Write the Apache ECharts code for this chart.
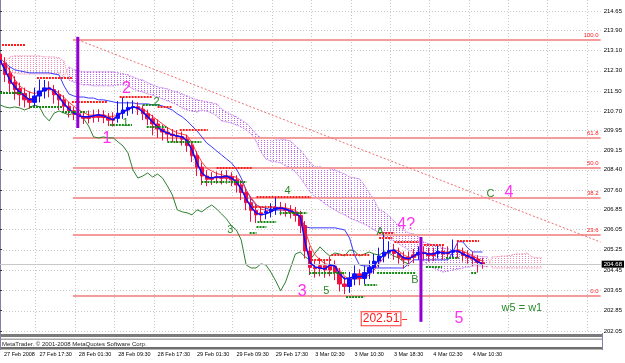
<!DOCTYPE html>
<html><head><meta charset="utf-8">
<script src="https://cdn.jsdelivr.net/npm/echarts@6/dist/echarts.min.js"></script>
<style>html,body{margin:0;padding:0;background:#fff}#c{width:625px;height:363px}</style>
</head><body><div id="c"></div>
<script>
// ---------- DATA (hourly bars, bar index 0 = 27 Feb 2008) ----------
const timeLabels = ['27 Feb 2008','27 Feb 17:30','28 Feb 01:30','28 Feb 09:30','28 Feb 17:30','29 Feb 01:30','29 Feb 09:30','29 Feb 17:30','3 Mar 02:30','3 Mar 10:30','3 Mar 18:30','4 Mar 02:30','4 Mar 10:30'];
const timeLabelBars = [0, 7.2, 15.2, 23.2, 31.2, 39.2, 47.2, 55.2, 63.2, 71.2, 79.2, 87.2, 95.2];
const gridBars = [7.2, 15.2, 23.2, 31.2, 39.2, 47.2, 55.2, 63.2, 71.2, 79.2, 87.2, 95.2, 103.2, 111.2, 119.2];
const priceTicks = [202.05, 202.85, 203.65, 204.45, 205.25, 206.05, 206.85, 207.60, 208.40, 209.15, 209.95, 210.70, 211.50, 212.30, 213.10, 213.90, 214.65];

const open = [212.95,212.60,212.20,211.85,211.60,211.40,211.20,211.05,211.30,211.50,
211.62,211.55,211.35,211.15,210.90,210.72,210.60,210.48,210.50,210.50,
210.55,210.55,210.45,210.42,210.42,210.62,210.75,210.85,210.88,210.78,
210.60,210.40,210.20,210.00,209.88,209.80,209.74,209.70,209.60,209.35,
208.95,208.50,208.15,208.08,208.12,208.12,208.12,208.12,208.00,207.80,
207.50,207.10,206.80,206.70,206.70,206.75,206.85,206.92,206.85,206.80,
206.72,206.60,206.20,205.20,204.55,204.62,204.62,204.60,204.60,204.35,
203.90,203.80,204.10,204.30,204.12,204.35,204.55,204.80,205.00,205.15,
205.22,205.10,204.95,204.95,205.05,205.05,205.15,205.10,205.10,205.10,
205.18,205.15,205.15,205.22,205.15,205.02,204.95,204.88,204.75];
const close = [212.55,212.15,211.80,211.55,211.35,211.15,211.05,211.30,211.50,211.62,
211.55,211.35,211.15,210.90,210.72,210.58,210.48,210.42,210.42,210.46,
210.46,210.45,210.35,210.35,210.62,210.75,210.85,210.88,210.78,210.60,
210.40,210.20,210.00,209.88,209.80,209.74,209.70,209.60,209.35,208.95,
208.50,208.15,208.02,208.02,208.08,208.06,208.06,208.00,207.80,207.50,
207.10,206.80,206.62,206.62,206.75,206.85,206.92,206.85,206.80,206.72,
206.60,206.20,205.20,204.55,204.50,204.50,204.45,204.45,204.35,203.90,
203.80,204.10,204.30,204.12,204.35,204.55,204.80,205.00,205.15,205.22,
205.10,204.95,204.85,204.85,204.95,205.15,205.10,205.02,205.02,205.18,
205.08,205.08,205.22,205.15,205.02,204.95,204.88,204.75,204.68];
const low = [212.20,211.85,211.45,211.15,210.90,210.85,210.80,210.85,211.05,211.20,
211.25,211.00,210.75,210.65,210.45,210.35,210.25,210.20,210.22,210.25,
210.28,210.23,210.12,210.10,210.25,210.40,210.52,210.60,210.55,210.35,
210.15,209.75,209.65,209.55,209.52,209.48,209.45,209.35,209.10,208.70,
208.15,207.80,207.75,207.80,207.85,207.82,207.85,207.75,207.50,207.20,
206.80,206.35,206.30,206.35,206.45,206.52,206.62,206.60,206.55,206.48,
206.35,205.90,204.90,204.25,204.15,204.20,204.15,204.20,204.05,203.60,
203.50,203.55,203.85,203.85,203.90,204.10,204.30,204.55,204.75,204.90,
204.85,204.70,204.50,204.60,204.72,204.85,204.85,204.78,204.80,204.90,
204.85,204.88,204.95,204.90,204.78,204.70,204.60,204.35,204.50];
const high = [213.15,212.83,212.43,212.08,211.83,211.63,211.48,211.63,211.95,211.93,
211.88,211.73,211.53,211.33,211.08,210.88,210.78,210.70,210.73,210.76,
210.78,210.74,210.63,210.66,211.10,211.25,211.08,211.13,211.06,210.93,
210.76,210.56,210.38,210.18,210.08,210.00,209.96,209.90,209.78,209.53,
209.13,208.68,208.38,208.30,208.33,208.36,208.38,208.30,208.18,207.98,
207.68,207.28,207.03,206.93,206.98,207.08,207.30,207.13,207.08,207.00,
206.93,206.78,206.38,205.38,204.83,204.93,204.88,204.98,204.83,204.53,
204.18,204.38,204.63,204.48,204.63,204.83,205.08,205.33,205.88,205.58,
205.48,205.33,205.18,205.18,205.28,205.38,205.38,205.33,205.33,205.43,
205.38,205.38,205.65,205.60,205.33,205.23,205.18,205.03,204.93];

// thick blue moving average
const maFast = [212.72,212.33,211.93,211.66,211.46,211.30,211.15,211.19,211.42,211.54,
211.62,211.50,211.26,210.99,210.79,210.63,210.52,210.48,210.48,210.52,
210.56,210.52,210.44,210.36,210.56,210.67,210.79,210.87,210.83,210.67,
210.48,210.28,210.08,209.93,209.85,209.77,209.73,209.69,209.53,209.18,
208.67,208.27,208.11,208.07,208.11,208.11,208.15,208.07,207.92,207.64,
207.25,206.93,206.70,206.62,206.66,206.74,206.85,206.89,206.85,206.78,
206.70,206.54,205.52,204.73,204.57,204.53,204.49,204.65,204.61,204.30,
204.10,204.14,204.18,204.18,204.22,204.37,204.61,204.89,205.04,205.20,
205.24,205.08,204.93,204.89,205.00,205.12,205.12,205.08,205.08,205.16,
205.12,205.12,205.20,205.20,205.08,205.00,204.92,204.77,204.69];
// Ichimoku tenkan (thin red)
const tenkan = [212.80,212.60,212.30,211.95,211.70,211.55,211.45,211.40,211.45,211.55,
211.55,211.55,211.40,211.25,211.05,210.90,210.75,210.65,210.55,210.55,
210.55,210.55,210.50,210.50,210.55,210.65,210.75,210.85,210.85,210.80,
210.65,210.50,210.35,210.20,210.05,209.95,209.85,209.80,209.75,209.45,
209.05,208.70,208.45,208.35,208.25,208.20,208.15,208.15,208.10,207.95,
207.60,207.30,207.05,206.85,206.80,206.80,206.85,206.90,206.90,206.85,
206.80,206.65,206.00,205.40,205.05,204.85,204.70,204.65,204.60,204.45,
204.20,204.10,204.10,204.10,204.15,204.25,204.45,204.70,204.95,205.15,
205.25,205.20,205.05,204.95,204.95,205.05,205.10,205.10,205.10,205.15,
205.15,205.15,205.20,205.25,205.20,205.10,205.00,204.90,204.80];
// Ichimoku kijun (thin blue)
const kijun = [212.80,212.60,212.45,212.33,212.29,212.25,212.21,212.21,212.21,212.21,
212.21,212.17,212.13,211.70,211.38,211.30,211.26,211.26,211.22,211.22,
211.15,211.15,211.11,211.07,211.03,211.03,211.03,211.03,210.99,210.99,
210.99,210.95,210.95,210.91,210.83,210.75,210.60,210.48,210.32,210.12,
209.93,209.69,209.45,209.30,209.14,208.98,208.82,208.67,208.43,208.07,
207.60,207.25,207.01,206.93,206.89,206.81,206.81,206.81,206.81,206.78,
206.70,206.50,206.15,206.11,206.11,206.11,206.11,206.11,206.11,206.07,
206.03,205.71,205.04,204.65,204.61,204.61,204.53,204.53,204.53,204.53,
204.53,204.53,204.53,204.69,204.85,204.85,204.85,204.85,204.85,204.85,
204.85,204.85,205.16,205.56,205.56,205.32,205.16,205.16,205.16];
// Ichimoku chikou (green)
const chikou = [210.95,210.87,210.83,210.87,210.83,210.75,210.83,210.95,210.87,210.52,
210.32,210.63,210.71,210.63,210.56,210.63,210.60,210.40,210.12,209.69,
209.65,209.69,209.65,209.65,209.49,209.33,209.06,208.39,208.07,208.15,
208.27,208.11,208.23,208.07,207.76,207.41,206.82,206.74,206.70,206.62,
206.82,206.74,206.89,207.01,206.85,206.66,206.46,206.19,206.03,205.63,
204.65,204.53,204.53,204.69,204.65,204.37,204.02,203.63,203.98,204.53,
205.08,205.16,204.96,204.85,205.12,205.36,205.16,205.00,205.12,205.08,
205.00,205.24,205.20,205.00,205.08,205.16,205.08,205.04,205.16,205.12,
205.00,204.92,204.77,204.69];
// Ichimoku cloud spans, starting at bar 1
const cloudStartBar = 1;
const spanA = [212.64,212.84,212.88,212.88,212.88,212.88,212.88,212.88,212.84,212.84,212.84,212.80,212.68,
211.93,211.85,211.78,211.74,211.74,211.70,211.70,211.70,211.70,211.70,211.74,211.74,211.70,211.58,211.50,211.46,
211.38,211.34,211.26,211.19,211.11,211.03,210.95,210.83,210.75,210.71,210.67,210.75,210.71,210.63,210.52,210.32,
210.28,210.24,210.16,210.08,209.97,209.81,209.53,209.10,208.82,208.74,208.71,208.67,208.55,208.47,208.31,208.08,
207.80,207.52,207.33,207.21,207.05,206.93,206.82,206.70,206.62,206.50,206.42,206.34,206.26,206.15,206.03,205.91,
205.79,205.67,205.60,205.48,205.36,205.24,205.12,205.00,204.81,204.65,204.53,204.45,204.37,204.41,204.45,204.49,
204.53,204.57,204.61,204.61,204.61,204.57,
204.97,204.97,205.00,205.00,205.04,205.08,205.08,205.12,204.97,204.93,204.93];
const spanB = [212.33,212.25,212.21,212.17,212.17,212.17,212.17,212.17,212.17,212.17,212.17,212.21,212.05,
212.45,212.33,212.29,212.25,212.25,212.25,212.25,212.25,212.25,212.25,212.21,212.17,212.13,212.05,211.97,211.93,
211.82,211.74,211.66,211.62,211.58,211.50,211.46,211.38,211.30,211.22,211.15,211.11,211.07,211.03,210.99,210.79,
210.67,210.56,210.48,210.36,210.24,210.04,209.81,209.65,209.65,209.65,209.61,209.61,209.57,209.53,209.34,209.18,
208.94,208.67,208.51,208.51,208.47,208.43,208.39,208.31,208.23,208.11,208.08,208.04,207.80,207.49,207.21,206.82,
206.74,206.58,206.38,206.19,206.03,205.91,205.87,205.75,205.56,205.48,205.44,205.40,205.32,205.28,205.24,205.20,
205.16,205.12,205.04,205.00,204.97,204.97,
204.53,204.53,204.53,204.53,204.53,204.53,204.53,204.53,204.53,204.53,204.53];

// dotted resistance (red) and support (green) segments: [startBar, endBar, price]
const redLevels = [[0.4,5.1,213.31],[7.5,14.6,212.01],[14.6,21.9,211.07],[24.3,30.8,211.26],[32.0,34.9,210.87],
[36.5,42.2,209.97],[44.0,51.1,208.47],[51.3,56.1,206.93],[52.1,63.2,207.33],[63.2,67.3,204.85],[67.3,75.0,205.04],
[77.0,80.1,205.91],[77.0,79.7,205.71],[80.1,85.1,205.56],[86.1,90.2,205.44],[92.8,97.3,205.59]];
const greenLevels = [[0,4.5,211.42],[6.1,12.6,210.87],[12.6,17.6,210.67],[22.3,26.8,210.16],[29.0,32.4,210.95],
[29.8,33.8,210.08],[34.0,40.9,209.49],[40.9,50.1,207.92],[50.7,52.1,205.91],[52.1,54.1,206.15],[52.3,56.1,206.34],
[56.8,62.4,206.70],[62.8,70.3,204.33],[70.3,74.0,203.39],[74.0,76.6,203.86],[76.6,84.5,204.33],[86.5,89.8,204.57],
[90.6,93.2,204.93],[95.7,96.9,204.33]];

// Fibonacci retracement
const fibHigh = 213.51, fibLow = 203.43, fibStartBar = 14.8;
const fibRatios = [100.0, 61.8, 50.0, 38.2, 23.6, 0.0];
// trend line [bar, price]
const trendLine = [[15.8, 213.51], [122, 205.55]];
// vertical purple bars [bar, topPrice, bottomPrice]
const purpleBars = [[15.8, 213.63, 210.04], [85.5, 205.75, 202.41]];
// wave labels [bar, price, text]
const magentaLabels = [[21.7,209.61,'1'],[25.7,211.58,'2'],[61.4,203.59,'3'],[82.5,206.23,'4?'],[103.4,207.48,'4'],[93.2,202.52,'5']];
const greenLabels = [[25.5,210.24,'1'],[31.8,211.07,'2'],[46.8,206.03,'3'],[58.4,207.56,'4'],[66.3,203.63,'5'],
[77.2,205.95,'A'],[84.3,204.06,'B'],[99.6,207.45,'C'],[106.0,202.96,'w5 = w1']];
const targetLabel = [77.4, 202.53, '202.51'];
const bidPrice = 204.68;

// ---------- CHART ----------
const FONT = 'Liberation Sans';
const N_BARS = 123;
const categories = Array.from({length: N_BARS}, (_, i) => String(i));
const candleData = open.map((o, i) => [o, close[i], low[i], high[i]]);

function dotPattern(color) {
  const c = document.createElement('canvas'); c.width = 3; c.height = 2;
  const g = c.getContext('2d'); g.fillStyle = color; g.fillRect(0, 0, 1, 1);
  return {image: c, repeat: 'repeat'};
}
const PINK = '#f08ab0', VIOLET = '#bb66ee';
const pinkPat = dotPattern(PINK), violetPat = dotPattern(VIOLET);

function custom(name, data, renderItem, z) {
  return {type: 'custom', name, xAxisIndex: 1, yAxisIndex: 0, silent: true, z: z, animation: false,
    data, renderItem};
}
function hline(x1, x2, y, stroke, w, dash) {
  return {type: 'line', shape: {x1, y1: y, x2, y2: y}, style: {stroke, lineWidth: w, lineDash: dash || null}};
}

const series = [];
series.push(custom('hgrid', priceTicks.map(p => [0, p]), (params, api) => {
  const cs = params.coordSys; const p = api.coord([0, api.value(1)]);
  const y = Math.round(p[1]) + 0.5;
  return hline(cs.x, cs.x + cs.width, y, '#c8c8c8', 1, [1, 2]);
}, 0));
series.push(custom('vgrid', gridBars.map(b => [b, 210]), (params, api) => {
  const cs = params.coordSys; const p = api.coord([api.value(0), 210]);
  const x = Math.round(p[0]) + 0.5;
  return {type: 'line', shape: {x1: x, y1: cs.y, x2: x, y2: cs.y + cs.height}, style: {stroke: '#c8c8c8', lineWidth: 1, lineDash: [1, 2]}};
}, 0));
series.push(custom('cloud', spanA.map((v, k) => [cloudStartBar + k, v]), (params, api) => {
  const k = params.dataIndex;
  if (k >= spanA.length - 1) return null;
  const i = cloudStartBar + k;
  const a0 = api.coord([i, spanA[k]]), a1 = api.coord([i + 1, spanA[k + 1]]);
  const b0 = api.coord([i, spanB[k]]), b1 = api.coord([i + 1, spanB[k + 1]]);
  const pink = (spanA[k] + spanA[k + 1]) >= (spanB[k] + spanB[k + 1]);
  const col = pink ? PINK : VIOLET;
  return {type: 'group', children: [
    {type: 'polygon', shape: {points: [a0, a1, b1, b0]}, style: {fill: pink ? pinkPat : violetPat}},
    {type: 'line', shape: {x1: a0[0], y1: a0[1], x2: a1[0], y2: a1[1]}, style: {stroke: col, lineWidth: 1, lineDash: [1, 1]}},
    {type: 'line', shape: {x1: b0[0], y1: b0[1], x2: b1[0], y2: b1[1]}, style: {stroke: col, lineWidth: 1, lineDash: [1, 1]}}
  ]};
}, 1));
series.push(custom('fib', fibRatios.map(r => [fibStartBar, fibLow + (fibHigh - fibLow) * r / 100]), (params, api) => {
  const cs = params.coordSys; const p = api.coord([api.value(0), api.value(1)]);
  const y = Math.round(p[1]);
  return {type: 'group', children: [
    hline(p[0], cs.x + cs.width, y, '#f49c9c', 2),
    {type: 'text', x: cs.x + cs.width - 2, y: y - 2, style: {text: fibRatios[params.dataIndex].toFixed(1), fill: '#ff2020', font: '6px ' + FONT, align: 'right', verticalAlign: 'bottom'}}
  ]};
}, 2));
series.push(custom('trend', [trendLine[0]], (params, api) => {
  const p0 = api.coord(trendLine[0]), p1 = api.coord(trendLine[1]);
  return {type: 'line', shape: {x1: p0[0], y1: p0[1], x2: p1[0], y2: p1[1]}, style: {stroke: '#f07070', lineWidth: 1, lineDash: [2, 2]}};
}, 2));
function lineS(name, data, color, width, z) {
  return {type: 'line', name, xAxisIndex: 0, yAxisIndex: 0, data, symbol: 'none', silent: true, z,
    lineStyle: {color, width}, animation: false};
}
series.push(lineS('chikou', chikou, '#2f7f2f', 1, 3));
series.push(lineS('kijun', kijun, '#3a3aff', 1, 3));
series.push(lineS('tenkan', tenkan, '#ff3b3b', 1, 3));
series.push({type: 'candlestick', name: 'price', xAxisIndex: 0, yAxisIndex: 0, data: candleData, z: 4, barWidth: 4,
  silent: true, animation: false,
  itemStyle: {color: '#1010ff', color0: '#f01040', borderColor: '#1010ff', borderColor0: '#f01040', borderWidth: 1},
  markLine: {symbol: 'none', silent: true, animation: false, data: [{yAxis: bidPrice}],
    lineStyle: {color: '#c8c8c8', width: 1, type: 'solid'},
    label: {show: true, position: 'end', distance: 1, formatter: bidPrice.toFixed(2), color: '#fff', backgroundColor: '#000',
      fontSize: 6, fontFamily: FONT, padding: [1, 2, 0, 2]}}});
series.push(lineS('ma', maFast, '#0a0aff', 1.5, 5));
function levelSeries(name, arr, color) {
  return custom(name, arr, (params, api) => {
    const p0 = api.coord([api.value(0), api.value(2)]), p1 = api.coord([api.value(1), api.value(2)]);
    return hline(p0[0], p1[0], Math.round(p0[1]), color, 2, [2, 1]);
  }, 6);
}
series.push(levelSeries('red levels', redLevels, '#ff1a1a'));
series.push(levelSeries('green levels', greenLevels, '#118811'));
series.push(custom('purple', purpleBars, (params, api) => {
  const p0 = api.coord([api.value(0), api.value(1)]), p1 = api.coord([api.value(0), api.value(2)]);
  return {type: 'line', shape: {x1: p0[0], y1: p0[1], x2: p1[0], y2: p1[1]}, style: {stroke: '#9400d3', lineWidth: 3}};
}, 7));
function labelSeries(name, arr, color, size) {
  return custom(name, arr.map(a => [a[0], a[1]]), (params, api) => {
    const p = api.coord([api.value(0), api.value(1)]);
    return {type: 'text', x: p[0], y: p[1], style: {text: arr[params.dataIndex][2], fill: color, font: size + 'px ' + FONT, align: 'center', verticalAlign: 'middle'}};
  }, 8);
}
series.push(labelSeries('magenta labels', magentaLabels, '#ff33ee', 16));
series.push(labelSeries('green labels', greenLabels, '#2a8a2a', 11));
series.push(custom('target', [[targetLabel[0], targetLabel[1]]], (params, api) => {
  const p = api.coord([api.value(0), api.value(1)]);
  return {type: 'group', children: [
    {type: 'text', x: p[0], y: p[1], style: {text: targetLabel[2], fill: '#ff1a1a', font: '12px ' + FONT, align: 'center', verticalAlign: 'middle',
      backgroundColor: '#fff', borderColor: '#ff3030', borderWidth: 1, padding: [1, 1, 0, 1]}},
    hline(p[0] + 21, p[0] + 26, Math.round(p[1]) + 0.5, '#ff3030', 1)
  ]};
}, 8));

const chart = echarts.init(document.getElementById('c'), null, {renderer: 'canvas'});
chart.setOption({
  backgroundColor: '#ffffff',
  animation: false,
  grid: {left: 0, right: 23, top: 0, bottom: 30, containLabel: false},
  xAxis: [
    {type: 'category', data: categories, boundaryGap: false, show: false},
    {type: 'value', min: 0, max: N_BARS - 1, position: 'bottom',
      axisLine: {show: false}, axisTick: {show: false}, splitLine: {show: false},
      axisLabel: {customValues: timeLabelBars, margin: 18, align: 'left', fontSize: 5.5, fontFamily: FONT, color: '#000',
        padding: [0, 0, 0, 4],
        formatter: v => { const k = timeLabelBars.findIndex(b => Math.abs(b - v) < 0.01); return k >= 0 ? timeLabels[k] : ''; }}}
  ],
  yAxis: {type: 'value', position: 'right', min: 201.97, max: 215.08, scale: true,
    axisLine: {show: true, lineStyle: {color: '#8080a8'}},
    axisTick: {show: true, customValues: priceTicks, length: 2, lineStyle: {color: '#333'}},
    splitLine: {show: false},
    axisLabel: {customValues: priceTicks, formatter: v => v.toFixed(2), fontSize: 6, fontFamily: FONT, color: '#000', margin: 3}},
  graphic: [
    {type: 'rect', shape: {x: 0, y: 334, width: 602, height: 3}, style: {fill: '#7a7a7a'}, silent: true},
    {type: 'rect', shape: {x: 0, y: 338.5, width: 602, height: 1.5}, style: {fill: '#a8a8a8'}, silent: true},
    {type: 'text', x: 2, y: 341, style: {text: 'MetaTrader. \u00a9 2001-2008 MetaQuotes Software Corp.', fill: '#222', font: '6px ' + FONT}, silent: true},
    {type: 'rect', shape: {x: 0, y: 347, width: 602, height: 2.5}, style: {fill: '#6e6e6e'}, silent: true},
    {type: 'line', shape: {x1: 602.5, y1: 333, x2: 602.5, y2: 350}, style: {stroke: '#8080a8', lineWidth: 1}, silent: true},
    {type: 'line', shape: {x1: 0.5, y1: 318, x2: 0.5, y2: 350}, style: {stroke: '#8080a8', lineWidth: 1}, silent: true}
  ],
  series
});
</script></body></html>
